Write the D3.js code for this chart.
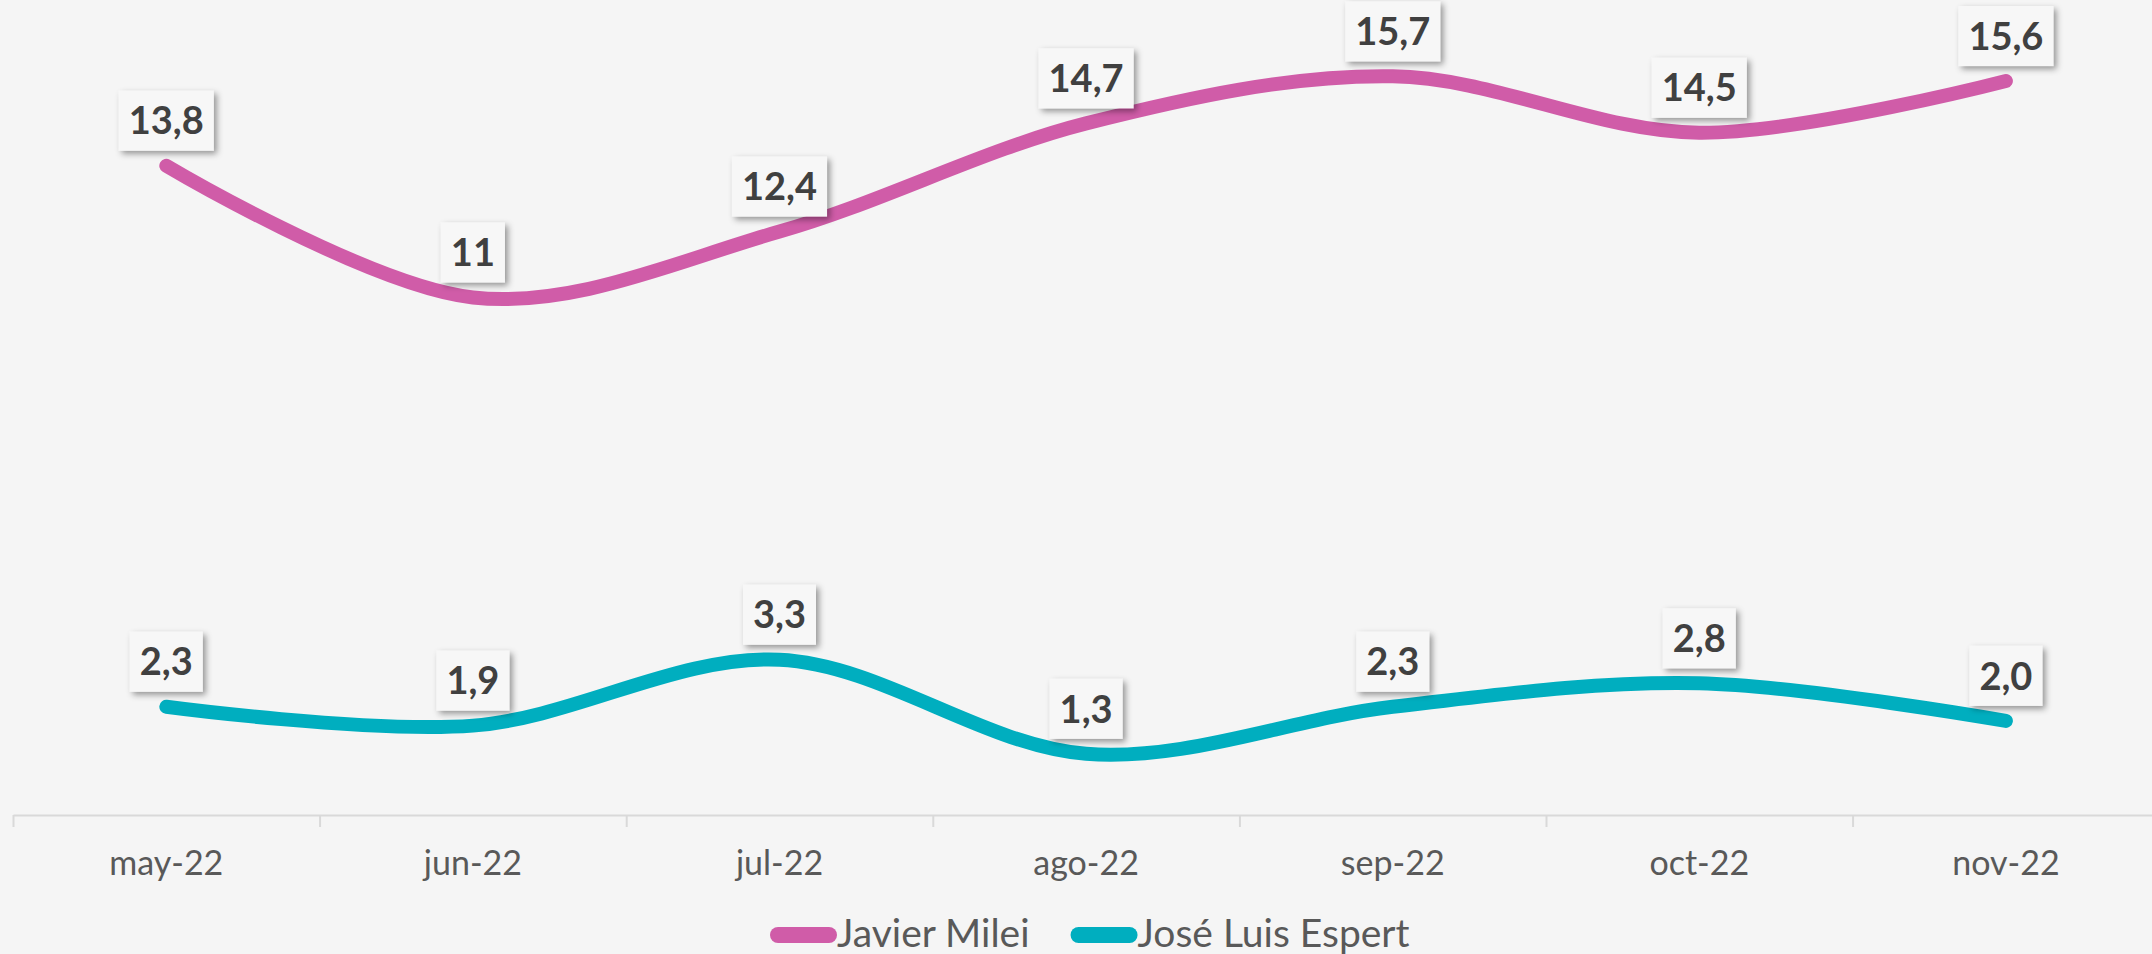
<!DOCTYPE html>
<html>
<head>
<meta charset="utf-8">
<script src="https://cdn.jsdelivr.net/npm/d3@7"></script>
<style>
  body { margin: 0; background: #f5f5f5; }
  svg { display: block; }
</style>
</head>
<body>
<div id="chart-area"></div>
<script>
// data
var months = ["may-22", "jun-22", "jul-22", "ago-22", "sep-22", "oct-22", "nov-22"];
var mileiValues = [13.8, 11, 12.4, 14.7, 15.7, 14.5, 15.6];
var espertValues = [2.3, 1.9, 3.3, 1.3, 2.3, 2.8, 2.0];
var mileiLabels = ["13,8", "11", "12,4", "14,7", "15,7", "14,5", "15,6"];
var espertLabels = ["2,3", "1,9", "3,3", "1,3", "2,3", "2,8", "2,0"];
var seriesNames = ["Javier Milei", "José Luis Espert"];
var seriesColors = ["#d05ca8", "#00aebf"];

var W = 2152, H = 954;
var axisY = 815;

var svg = d3.select("#chart-area").append("svg")
  .attr("width", W)
  .attr("height", H);

svg.append("rect")
  .attr("width", W)
  .attr("height", H)
  .attr("fill", "#f5f5f5");

var defs = svg.append("defs");
var shadow = defs.append("filter")
  .attr("id", "shadow")
  .attr("x", "-20%").attr("y", "-20%")
  .attr("width", "150%").attr("height", "150%");
shadow.append("feDropShadow")
  .attr("dx", 3)
  .attr("dy", 3)
  .attr("stdDeviation", 3)
  .attr("flood-color", "#000")
  .attr("flood-opacity", 0.4);

// X Scale
var x = d3.scaleBand()
  .domain(months)
  .range([13, 13 + 7 * 306.6]);

// boundaries for tick marks
var xb = d3.scaleLinear()
  .domain([0, months.length])
  .range(x.range());

// Y Scale
var y = d3.scaleLinear()
  .domain([0, 16])
  .range([axisY, axisY - 16 * 47.05]);

// X Axis (tick marks on band boundaries)
var tickAxis = d3.axisBottom(xb)
  .tickValues(d3.range(0, months.length + 1))
  .tickSize(12)
  .tickSizeOuter(0)
  .tickFormat("");
var gTicks = svg.append("g")
  .attr("transform", "translate(0," + axisY + ")")
  .call(tickAxis);
gTicks.select(".domain").attr("stroke", "#d9d9d9").attr("stroke-width", 2);
gTicks.selectAll(".tick line").attr("stroke", "#d9d9d9").attr("stroke-width", 2);

// X Axis labels
var labelAxis = d3.axisBottom(x)
  .tickSize(0)
  .tickPadding(36);
var gLabels = svg.append("g")
  .attr("transform", "translate(0," + axisY + ")")
  .call(labelAxis);
gLabels.select(".domain").remove();
gLabels.selectAll("text")
  .attr("font-family", "Lato, 'Open Sans', sans-serif")
  .attr("font-size", "34px")
  .attr("fill", "#595959");

// Lines
var line = d3.line()
  .x(function(d, i) { return x(months[i]) + x.bandwidth() / 2; })
  .y(function(d) { return y(d); })
  .curve(d3.curveCardinal.tension(0));

var series = [
  { name: seriesNames[0], values: mileiValues, labels: mileiLabels, color: seriesColors[0] },
  { name: seriesNames[1], values: espertValues, labels: espertLabels, color: seriesColors[1] }
];

series.forEach(function(s) {
  svg.append("path")
    .datum(s.values)
    .attr("fill", "none")
    .attr("stroke", s.color)
    .attr("stroke-width", 14)
    .attr("stroke-linecap", "round")
    .attr("stroke-linejoin", "round")
    .attr("d", line);
});

// Data labels
series.forEach(function(s) {
  var g = svg.append("g");
  s.values.forEach(function(v, i) {
    var cx = x(months[i]) + x.bandwidth() / 2;
    var bottom = y(v) - 15;
    var lab = g.append("g");
    var box = lab.append("rect")
      .attr("fill", "#f7f7f7")
      .attr("filter", "url(#shadow)");
    var t = lab.append("text")
      .attr("x", cx)
      .attr("y", bottom - 30)
      .attr("dy", "0.36em")
      .attr("text-anchor", "middle")
      .attr("font-family", "Lato, 'Open Sans', sans-serif")
      .attr("font-weight", "bold")
      .attr("font-size", "38px")
      .attr("fill", "#404040")
      .text(s.labels[i]);
    var w = t.node().getComputedTextLength() + 20;
    box.attr("x", cx - w / 2)
      .attr("y", bottom - 60)
      .attr("width", w)
      .attr("height", 60);
  });
});

// Legend
var legend = svg.append("g");
var lx = 770;
series.forEach(function(s) {
  legend.append("line")
    .attr("x1", lx + 8)
    .attr("x2", lx + 59)
    .attr("y1", 935)
    .attr("y2", 935)
    .attr("stroke", s.color)
    .attr("stroke-width", 16)
    .attr("stroke-linecap", "round");
  var t = legend.append("text")
    .attr("x", lx + 67)
    .attr("y", 947)
    .attr("font-family", "Lato, 'Open Sans', sans-serif")
    .attr("font-size", "39px")
    .attr("fill", "#595959")
    .text(s.name);
  lx = lx + 67 + t.node().getComputedTextLength() + 41;
});
</script>
</body>
</html>
